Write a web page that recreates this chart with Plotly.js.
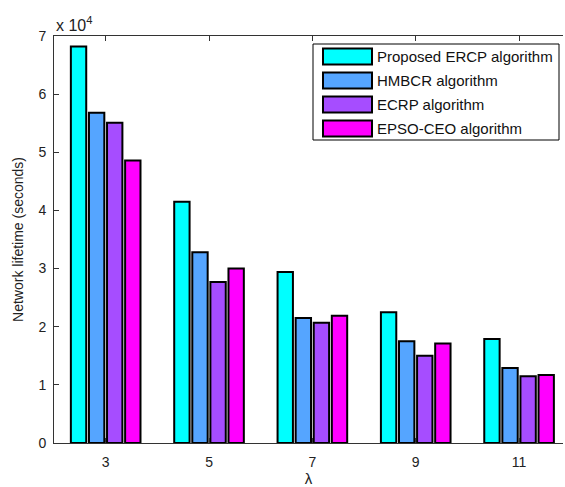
<!DOCTYPE html>
<html>
<head>
<meta charset="utf-8">
<script src="https://cdn.plot.ly/plotly-3.0.1.min.js"></script>
<style>html,body{margin:0;padding:0;background:#fff;}#chart{width:565px;height:487px;}</style>
</head>
<body>
<div id="chart"></div>
<script>
// Data (values in units of 10^4 seconds)
const lambdaValues = [3, 5, 7, 9, 11];
const seriesNames = ["Proposed ERCP algorithm", "HMBCR algorithm", "ECRP algorithm", "EPSO-CEO algorithm"];
const proposedERCP = [6.82, 4.15, 2.94, 2.25, 1.79];
const hmbcr = [5.68, 3.28, 2.15, 1.75, 1.29];
const ecrp = [5.51, 2.77, 2.07, 1.50, 1.15];
const epsoCeo = [4.86, 3.00, 2.19, 1.71, 1.17];
const yTickValues = [0, 1, 2, 3, 4, 5, 6, 7];

const seriesValues = [proposedERCP, hmbcr, ecrp, epsoCeo];
const colors = ["#00FFFF", "#55A5FF", "#A64DFF", "#FF00FF"];

const traces = seriesValues.map((vals, i) => ({
  type: "bar",
  x: lambdaValues,
  y: vals,
  name: seriesNames[i],
  marker: {color: colors[i], line: {color: "#000", width: 2}}
}));

const fontFam = "Liberation Sans, Arial, sans-serif";

// Custom legend (wide swatches like the original) in paper coordinates
const plotL = 54, plotR = 563, plotT = 36, plotB = 443;
const px2x = p => (p - plotL) / (plotR - plotL);
const px2y = p => (plotB - p) / (plotB - plotT);
const shapes = [{
  type: "rect", xref: "paper", yref: "paper",
  x0: px2x(313), x1: px2x(559), y0: px2y(140), y1: px2y(44),
  line: {color: "#000", width: 1}, fillcolor: "#fff", layer: "above"
}];
const annotations = [{
  xref: "paper", yref: "paper", x: 0.0, y: 1.0, xanchor: "left", yanchor: "bottom",
  text: "x 10<sup>4</sup>", showarrow: false, font: {size: 16, color: "#222"}, yshift: 0
}];
seriesNames.forEach((nm, i) => {
  const cy = 56.5 + i * 24;
  shapes.push({
    type: "rect", xref: "paper", yref: "paper",
    x0: px2x(323), x1: px2x(372), y0: px2y(cy + 8), y1: px2y(cy - 8),
    line: {color: "#000", width: 2}, fillcolor: colors[i], layer: "above"
  });
  annotations.push({
    xref: "paper", yref: "paper", x: px2x(375), y: px2y(cy), xanchor: "left", yanchor: "middle",
    text: nm, showarrow: false, font: {size: 15, color: "#111"}
  });
});

const layout = {
  width: 565, height: 487,
  margin: {l: plotL, r: 565 - plotR, t: plotT, b: 487 - plotB},
  paper_bgcolor: "#fff", plot_bgcolor: "#fff",
  barmode: "group", bargap: 0.3, bargroupgap: 0.15,
  font: {family: fontFam, size: 13, color: "#222"},
  showlegend: false,
  xaxis: {
    range: [2, 11.85], tickvals: lambdaValues, ticktext: lambdaValues.map(String),
    ticks: "inside", ticklen: 5, tickcolor: "#333",
    showline: true, linecolor: "#333", linewidth: 1, mirror: "ticks",
    showgrid: false, zeroline: false, ticklabelstandoff: 6,
    tickfont: {size: 14, color: "#222"},
    title: {text: "λ", font: {size: 15, color: "#222"}, standoff: 4}
  },
  yaxis: {
    range: [0, 7], tickvals: yTickValues, ticktext: yTickValues.map(String),
    ticks: "inside", ticklen: 5, tickcolor: "#333",
    showline: true, linecolor: "#333", linewidth: 1,
    showgrid: false, zeroline: false, ticklabelstandoff: 4,
    tickfont: {size: 14, color: "#222"},
    title: {text: "Network lifetime (seconds)", font: {size: 14, color: "#222"}, standoff: 11}
  },
  shapes: shapes,
  annotations: annotations
};

Plotly.newPlot("chart", traces, layout, {displayModeBar: false, staticPlot: true});
</script>
</body>
</html>
